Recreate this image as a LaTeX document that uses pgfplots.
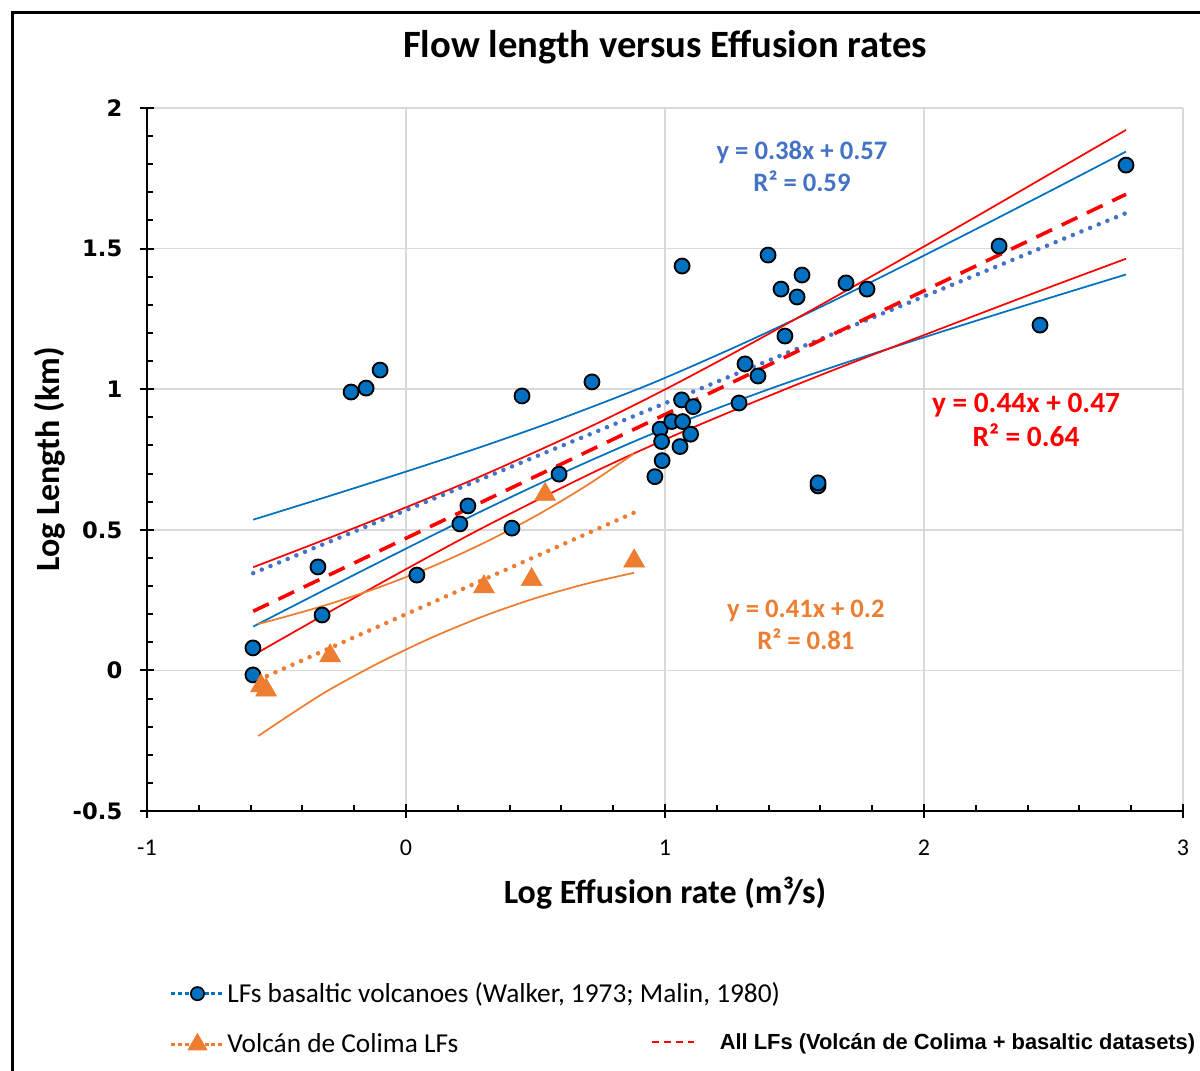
\documentclass[border=0pt]{standalone}
\usepackage{pgfplots}
\pgfplotsset{compat=1.18}
\usepackage{fontspec}
\setmainfont{Carlito}
\newfontfamily\dejavu{DejaVu Sans}
\newfontfamily\arialf{Liberation Sans}
\definecolor{mblue}{HTML}{0070C0}
\definecolor{tblue}{HTML}{4472C4}
\definecolor{morange}{HTML}{ED7D31}
\definecolor{mred}{HTML}{FF0000}
\definecolor{gridc}{HTML}{D9D9D9}

\pgfplotstableread{
x y
-0.591 0.080
-0.591 -0.016
-0.340 0.368
-0.324 0.197
-0.212 0.990
-0.154 1.004
-0.100 1.068
0.042 0.339
0.208 0.521
0.239 0.585
0.409 0.506
0.448 0.976
0.591 0.698
0.718 1.026
1.064 0.962
1.109 0.938
0.981 0.858
1.026 0.885
1.068 0.885
0.987 0.814
1.099 0.840
1.058 0.796
0.989 0.746
0.961 0.689
1.066 1.438
1.309 1.090
1.359 1.047
1.286 0.951
1.398 1.477
1.448 1.356
1.510 1.328
1.529 1.406
1.463 1.189
1.699 1.378
1.780 1.356
1.591 0.656
1.591 0.667
2.290 1.509
2.448 1.228
2.780 1.797
}\basaltic

\pgfplotstableread{
x y
-0.560 -0.055
-0.540 -0.070
-0.293 0.052
0.301 0.297
0.485 0.323
0.537 0.626
0.881 0.389
}\colima

\pgfplotstableread{
x up lo
-0.59 0.536 0.156
-0.30 0.619 0.293
0.00 0.707 0.433
0.30 0.798 0.570
0.60 0.896 0.700
0.95 1.021 0.841
1.30 1.162 0.966
1.60 1.292 1.064
1.90 1.429 1.155
2.20 1.569 1.243
2.50 1.711 1.329
2.78 1.845 1.408
}\bluebands

\pgfplotstableread{
x up lo
-0.59 0.367 0.054
-0.30 0.470 0.206
0.00 0.580 0.360
0.30 0.695 0.509
0.70 0.862 0.694
1.00 0.999 0.821
1.30 1.146 0.938
1.60 1.299 1.050
1.90 1.455 1.157
2.20 1.613 1.263
2.50 1.773 1.368
2.78 1.922 1.464
}\redbands

\pgfplotstableread{
x up lo
-0.57 0.165 -0.233
-0.45 0.195 -0.159
-0.30 0.235 -0.071
-0.10 0.297 0.029
0.10 0.369 0.117
0.30 0.453 0.193
0.50 0.549 0.257
0.70 0.659 0.309
0.88 0.771 0.347
}\orangebands

\begin{document}
\begin{tikzpicture}
\useasboundingbox (0,0) rectangle (900pt,-803.25pt);
\draw[line width=2.25pt] (9pt,-9pt) rectangle (940pt,-840pt);
\begin{axis}[
  at={(110.25pt,-608.25pt)}, anchor=south west,
  scale only axis, width=777pt, height=527.25pt,
  xmin=-1, xmax=3, ymin=-0.5, ymax=2,
  clip=false,
  axis x line*=bottom, axis y line*=left,
  xtick pos=lower, ytick pos=lower,
  axis line style={-, line width=1.5pt, black},
  xtick={-1,0,1,2,3}, ytick={-0.5,0,0.5,1,1.5,2},
  xticklabels={,,,,},
  minor x tick num=4, minor y tick num=4,
  tick align=inside, major tick length=5.6pt, minor tick length=4.5pt,
  every tick/.style={line width=1.5pt, black},
  extra y ticks={-0.5,0,0.5,1,1.5,2}, extra y tick labels={,,,,,},
  extra tick style={tick align=outside, grid=none},
  grid=major, major grid style={gridc, line width=1.1pt},
  /pgf/number format/assume math mode=true,
  /pgf/number format/fixed,
  yticklabel shift=15pt,
  yticklabel style={font=\dejavu\bfseries\fontsize{17}{20}\selectfont},
  title={Flow length versus Effusion rates},
  title style={font=\bfseries\fontsize{29}{34}\selectfont, at={(axis description cs:0.5,1.0754)}, anchor=center},
  xlabel={Log Effusion rate (m³/s)},
  xlabel style={font=\bfseries\fontsize{25.5}{30}\selectfont, at={(axis description cs:0.5,-0.1166)}, anchor=center},
  ylabel={Log Length (km)},
  ylabel style={font=\bfseries\fontsize{25.5}{30}\selectfont, at={(axis description cs:-0.0936,0.5)}, anchor=center},
  legend image code/.code={\draw[mark repeat=2,mark phase=2,#1] plot coordinates {(0pt,0pt) (19.5pt,0pt) (39pt,0pt)};},
  legend style={at={(axis description cs:0.0222,-0.240)}, anchor=north west, draw=none, fill=none,
    row sep=18pt, font=\fontsize{20.5}{24}\selectfont, cells={anchor=west}, inner sep=0pt},
]
% outer halves of the major x ticks, and the x tick labels
\pgfplotsinvokeforeach{-1,0,1,2,3}{
  \draw[line width=1.5pt, black] (axis cs:#1,-0.5) -- ([yshift=-5.6pt]axis cs:#1,-0.5);
  \node[font=\fontsize{18}{21}\selectfont, anchor=center, inner sep=0pt] at ([yshift=-27.75pt]axis cs:#1,-0.5) {#1};
}
% confidence bands
\addplot[mblue, line width=1.3pt, smooth, forget plot] table[x=x,y=up] {\bluebands};
\addplot[mblue, line width=1.3pt, smooth, forget plot] table[x=x,y=lo] {\bluebands};
\addplot[mred, line width=1.3pt, smooth, forget plot] table[x=x,y=up] {\redbands};
\addplot[mred, line width=1.3pt, smooth, forget plot] table[x=x,y=lo] {\redbands};
\addplot[morange, line width=1.3pt, smooth, forget plot] table[x=x,y=up] {\orangebands};
\addplot[morange, line width=1.3pt, smooth, forget plot] table[x=x,y=lo] {\orangebands};
% trend lines
\addplot[tblue, line width=3.4pt, line cap=round, dash pattern=on 0pt off 7pt, forget plot] coordinates {(-0.59,0.3458) (2.78,1.6264)};
\addplot[mred, line width=2.7pt, dash pattern=on 13pt off 8pt, forget plot] coordinates {(-0.59,0.2104) (2.78,1.6932)};
\addplot[morange, line width=3.4pt, line cap=round, dash pattern=on 0pt off 7pt, forget plot] coordinates {(-0.57,-0.0337) (0.88,0.5608)};
% data
\addplot[only marks, mark=*, mark size=5.6pt, mark options={fill=mblue, draw=black, line width=1.4pt}, forget plot] table[x=x,y=y] {\basaltic};
\addplot[only marks, mark=triangle*, mark size=9pt, mark options={fill=morange, draw=morange, line width=0.5pt}, forget plot] table[x=x,y=y] {\colima};
% equations
\node[tblue, font=\bfseries\fontsize{20}{24}\selectfont, align=center] at (axis cs:1.529,1.794) {y = 0.38x + 0.57\\R² = 0.59};
\node[mred, font=\bfseries\fontsize{22}{25.5}\selectfont, align=center] at (axis cs:2.394,0.8905) {y = 0.44x + 0.47\\R² = 0.64};
\node[morange, font=\bfseries\fontsize{20}{24}\selectfont, align=center] at (axis cs:1.544,0.1615) {y = 0.41x + 0.2\\R² = 0.81};
% legend
\addlegendimage{mblue, line width=1.8pt, dash pattern=on 3pt off 2pt, mark=*, mark size=5pt, mark options={solid, fill=mblue, draw=black, line width=1.2pt}}
\addlegendentry{LFs basaltic volcanoes (Walker, 1973; Malin, 1980)}
\addlegendimage{morange, line width=1.8pt, dash pattern=on 3pt off 2pt, mark=triangle*, mark size=7pt, mark options={solid, fill=morange, draw=morange}}
\addlegendentry{Volcán de Colima LFs}
\end{axis}
\begin{axis}[
  at={(110.25pt,-608.25pt)}, anchor=south west,
  scale only axis, width=777pt, height=527.25pt,
  xmin=-1, xmax=3, ymin=-0.5, ymax=2, hide axis,
  xtick=\empty, ytick=\empty,
  legend image code/.code={\draw[#1] (0pt,0pt) -- (32pt,0pt); \path (48pt,0pt);},
  legend style={at={(axis description cs:0.4855,-0.3286)}, anchor=west, draw=none, fill=none,
    font=\arialf\bfseries\fontsize{16.4}{19}\selectfont, cells={anchor=west}, inner sep=0pt},
]
\addplot[draw=none, forget plot] coordinates {(0,0)};
\addlegendimage{mred, line width=2.2pt, dash pattern=on 5.5pt off 3.5pt}
\addlegendentry{All LFs (Volcán de Colima + basaltic datasets)}
\end{axis}
\end{tikzpicture}
\end{document}
